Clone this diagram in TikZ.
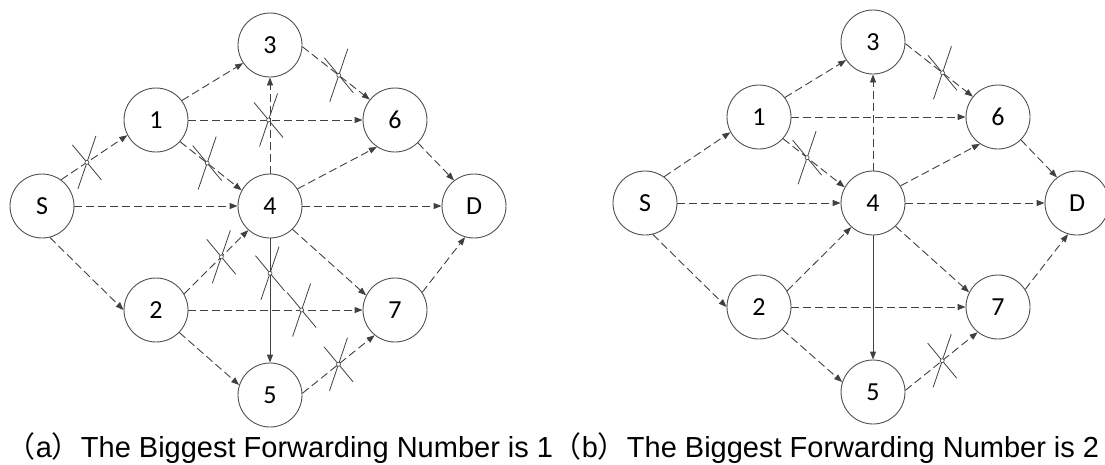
\documentclass[tikz,border=0pt]{standalone}
\usepackage{fontspec}
\setmainfont{Liberation Sans}
\newfontfamily\calibri{Carlito}
\newfontfamily\cjk{Noto Sans CJK SC}
\usepackage{xcolor}
\usepackage{tikz}
\usetikzlibrary{arrows.meta}

\definecolor{edgegray}{HTML}{404040}
\definecolor{linegray}{HTML}{505050}

\tikzset{
  xmark/.pic={
    \draw[solid,-,line width=0.8pt,draw=edgegray] (-14.5,-17.5) -- (14.5,17.5) (-9,26.5) -- (9,-26.5);
    \draw[solid,-,line width=0.6pt,draw=edgegray,fill=white] (0,0) circle[radius=2pt];
  }
}

\begin{document}
\begin{tikzpicture}[
  x=1pt,y=-1pt,
  vertex/.style={circle,draw=linegray,fill=white,line width=0.9pt,minimum size=64pt,inner sep=0pt,
    font=\calibri\fontsize{26}{26}\selectfont},
  arr/.style={-{Triangle[length=8pt,width=6pt]},draw=edgegray,line width=0.9pt,dash pattern=on 8pt off 4pt},
  solidarr/.style={arr,solid},
  caption/.style={anchor=base,font=\fontsize{29}{31}\selectfont}
]
\useasboundingbox (0,0) rectangle (1105,464);

% (a) forwarding number 1
\node[vertex] (aS) at (42,206) {S};
\node[vertex] (a1) at (156,120) {1};
\node[vertex] (a3) at (270,45) {3};
\node[vertex] (a4) at (270,206) {4};
\node[vertex] (a6) at (395,120) {6};
\node[vertex] (aD) at (474,206) {D};
\node[vertex] (a2) at (156,310) {2};
\node[vertex] (a5) at (270,395) {5};
\node[vertex] (a7) at (395,310) {7};

\draw[arr] (aS.54) -- pic[pos=.39]{xmark} (a1.208);
\draw[arr] (aS.east) -- (a4.west);
\draw[arr] (aS.284) -- (a2.west);
\draw[arr] (a1.37) -- (a3.214);
\draw[arr] (a1.east) -- pic[pos=.46]{xmark} (a6.west);
\draw[arr] (a1.318) -- pic[pos=.44]{xmark} (a4.151);
\draw[arr] (a4.north) -- (a3.south);
\draw[arr] (a3.357) -- pic[pos=.54]{xmark} (a6.141);
\draw[arr] (a4.32) -- (a6.236);
\draw[arr] (a4.east) -- (aD.west);
\draw[arr] (a6.315) -- (aD.128);
\draw[arr] (a2.30) -- pic[pos=.58]{xmark} (a4.228);
\draw[arr] (a2.east) -- pic[pos=.65]{xmark} (a7.west);
\draw[arr] (a2.316) -- (a5.162);
\draw[solidarr] (a4.south) -- pic[pos=.28]{xmark} (a5.north);
\draw[arr] (a4.314) -- (a7.153);
\draw[arr] (a5.3) -- pic[pos=.5]{xmark} (a7.231);
\draw[arr] (a7.33) -- (aD.254);

\node[caption] (capa) at (280,457) {{\cjk （}a{\cjk ）}The Biggest Forwarding Number is 1};

% (b) forwarding number 2
\begin{scope}[shift={(603,-3)}]
\node[vertex] (bS) at (42,206) {S};
\node[vertex] (b1) at (156,120) {1};
\node[vertex] (b3) at (270,45) {3};
\node[vertex] (b4) at (270,206) {4};
\node[vertex] (b6) at (395,120) {6};
\node[vertex] (bD) at (474,206) {D};
\node[vertex] (b2) at (156,310) {2};
\node[vertex] (b5) at (270,395) {5};
\node[vertex] (b7) at (395,310) {7};
\end{scope}

\draw[arr] (bS.54) -- (b1.208);
\draw[arr] (bS.east) -- (b4.west);
\draw[arr] (bS.284) -- (b2.west);
\draw[arr] (b1.37) -- (b3.214);
\draw[arr] (b1.east) -- (b6.west);
\draw[arr] (b1.318) -- pic[pos=.39]{xmark} (b4.151);
\draw[arr] (b4.north) -- (b3.south);
\draw[arr] (b3.357) -- pic[pos=.55]{xmark} (b6.141);
\draw[arr] (b4.32) -- (b6.236);
\draw[arr] (b4.east) -- (bD.west);
\draw[arr] (b6.315) -- (bD.128);
\draw[arr] (b2.30) -- (b4.228);
\draw[arr] (b2.east) -- (b7.west);
\draw[arr] (b2.316) -- (b5.162);
\draw[solidarr] (b4.south) -- (b5.north);
\draw[arr] (b4.314) -- (b7.153);
\draw[arr] (b5.3) -- pic[pos=.51]{xmark} (b7.231);
\draw[arr] (b7.33) -- (bD.254);

\node[caption] (capb) at (826,457) {{\cjk （}b{\cjk ）}The Biggest Forwarding Number is 2};
\end{tikzpicture}
\end{document}
